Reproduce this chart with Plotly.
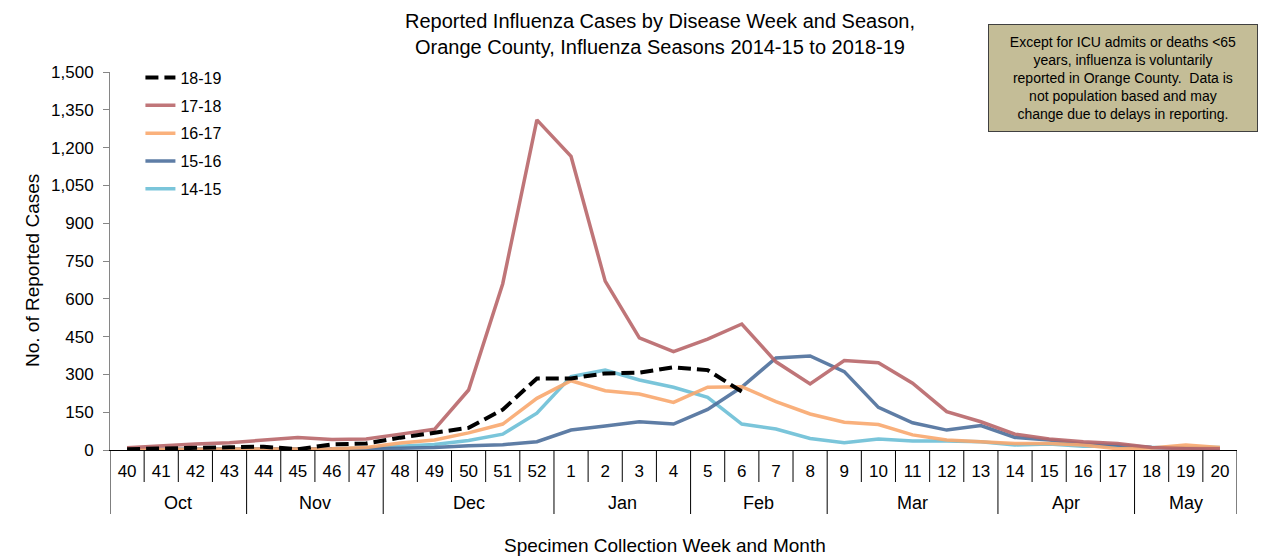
import plotly.graph_objects as go

weeks = [str(w) for w in range(40, 53)] + [str(w) for w in range(1, 21)]
months = ["Oct", "Nov", "Dec", "Jan", "Feb", "Mar", "Apr", "May"]
month_counts = [4, 4, 5, 4, 4, 5, 4, 3]

s1819 = [3, 7, 9, 11, 13, 3, 22, 26, 49, 70, 88, 160, 284, 284, 304, 307, 328, 317, 232]
s1718 = [9, 17, 24, 29, 40, 50, 42, 44, 63, 82, 238, 660, 1310, 1165, 670, 445, 390, 440, 500,
         350, 262, 355, 346, 265, 152, 112, 63, 44, 33, 26, 10, 5, 5]
s1617 = [2, 2, 2, 2, 3, 3, 5, 10, 28, 40, 68, 103, 205, 275, 235, 222, 189, 249, 251,
         192, 143, 110, 101, 60, 40, 33, 26, 26, 20, 5, 8, 20, 10]
s1516 = [2, 2, 2, 2, 2, 3, 4, 5, 7, 10, 17, 21, 33, 79, 95, 112, 103, 161, 250,
         365, 373, 311, 169, 108, 79, 97, 50, 40, 24, 20, 10, 8, 5]
s1415 = [2, 2, 2, 2, 2, 3, 5, 8, 15, 22, 38, 63, 146, 291, 317, 278, 249, 209, 103,
         83, 46, 29, 44, 36, 36, 33, 20, 24, 15, 15, 10, 10, 10]

# (name, values, colour, dash, width, legend rank)
series = [
    ("14-15", s1415, "#6CBFD6", "solid", 3.5, 5),
    ("15-16", s1516, "#4D6F9C", "solid", 3.5, 4),
    ("16-17", s1617, "#F9A86E", "solid", 3.5, 3),
    ("17-18", s1718, "#B9676A", "solid", 3.5, 2),
    ("18-19", s1819, "#000000", "13px,6px", 4, 1),
]

fig = go.Figure()
for name, vals, color, dash, w, rank in series:
    fig.add_trace(go.Scatter(
        x=weeks[:len(vals)], y=vals, name=name, mode="lines",
        line=dict(color=color, width=w, dash=dash),
        opacity=0.9 if dash == "solid" else 1.0,
        legendgroup=name, legendrank=rank,
    ))

FONT = "Liberation Sans, Arial, sans-serif"
# the page body adds an 8px offset; figure is sized so the plot area lands where it should
W, H = 1260, 552
OFF = 8
PL, PR, PT, PB = 110, 1237, 72, 450      # plot area in window pixels
plot_h = PB - PT
plot_w = PR - PL

shapes = []
acc = 0
month_edges = [0]
for c in month_counts:
    acc += c
    month_edges.append(acc)
for i in range(len(weeks) + 1):
    is_month = i in month_edges
    shapes.append(dict(
        type="line", xref="x", yref="paper",
        x0=i - 0.5, x1=i - 0.5, y0=0,
        y1=-(64 / plot_h) if is_month else -(32 / plot_h),
        line=dict(color="#000000", width=1),
    ))

annotations = []
for m, a, b in zip(months, month_edges[:-1], month_edges[1:]):
    annotations.append(dict(
        x=(a + b - 1) / 2, y=-(53 / plot_h), xref="x", yref="paper",
        text=m, showarrow=False, yanchor="middle",
        font=dict(family=FONT, size=18, color="#000000"),
    ))
annotations.append(dict(
    x=(665 - PL) / plot_w, y=-(95 / plot_h), xref="paper", yref="paper",
    text="Specimen Collection Week and Month", showarrow=False, yanchor="middle",
    font=dict(family=FONT, size=19, color="#000000"),
))
annotations.append(dict(
    x=(32 - PL) / plot_w, y=(PB - 271) / plot_h, xref="paper", yref="paper",
    text="No. of Reported Cases", showarrow=False, textangle=-90,
    xanchor="center", yanchor="middle",
    font=dict(family=FONT, size=19, color="#000000"),
))
annotations.append(dict(
    x=(1123 - PL) / plot_w, y=(PB - 78) / plot_h, xref="paper", yref="paper",
    text=("Except for ICU admits or deaths <65<br>years, influenza is voluntarily<br>"
          "reported in Orange County.  Data is<br>not population based and may<br>"
          "change due to delays in reporting."),
    showarrow=False, xanchor="center", yanchor="middle", align="center",
    width=264, height=102,
    bgcolor="#C4BD97", bordercolor="#404040", borderwidth=1, borderpad=2,
    font=dict(family=FONT, size=14, color="#000000"),
))

fig.update_layout(
    width=W, height=H,
    margin=dict(l=PL - OFF, r=W - (PR - OFF), t=PT - OFF, b=H - (PB - OFF)),
    paper_bgcolor="#FFFFFF", plot_bgcolor="#FFFFFF",
    font=dict(family=FONT, size=16, color="#000000"),
    title=dict(
        text="Reported Influenza Cases by Disease Week and Season,<br>Orange County, Influenza Seasons 2014-15 to 2018-19",
        x=(660 - OFF) / W, xanchor="center", y=1 - 20 / H, yanchor="top",
        xref="container", yref="container",
        font=dict(family=FONT, size=20, color="#000000"),
    ),
    xaxis=dict(
        type="category", categoryorder="array", categoryarray=weeks,
        range=[-0.5, len(weeks) - 0.5], automargin=False,
        showgrid=False, zeroline=False,
        showline=True, linecolor="#000000", linewidth=1,
        ticks="", ticklabelstandoff=6,
        tickfont=dict(family=FONT, size=17),
    ),
    yaxis=dict(
        range=[0, 1500], tickvals=list(range(0, 1501, 150)), automargin=False,
        tickformat=",d", showgrid=False, zeroline=False,
        showline=True, linecolor="#868686", linewidth=1,
        ticks="outside", ticklen=6, tickcolor="#868686",
        ticklabelstandoff=6,
        tickfont=dict(family=FONT, size=17),
    ),
    legend=dict(
        x=0.027, y=1.03, xanchor="left", yanchor="top",
        traceorder="grouped", tracegroupgap=4,
        font=dict(family=FONT, size=16),
        bgcolor="rgba(0,0,0,0)",
    ),
    shapes=shapes, annotations=annotations,
)

fig.write_html("out.html")
